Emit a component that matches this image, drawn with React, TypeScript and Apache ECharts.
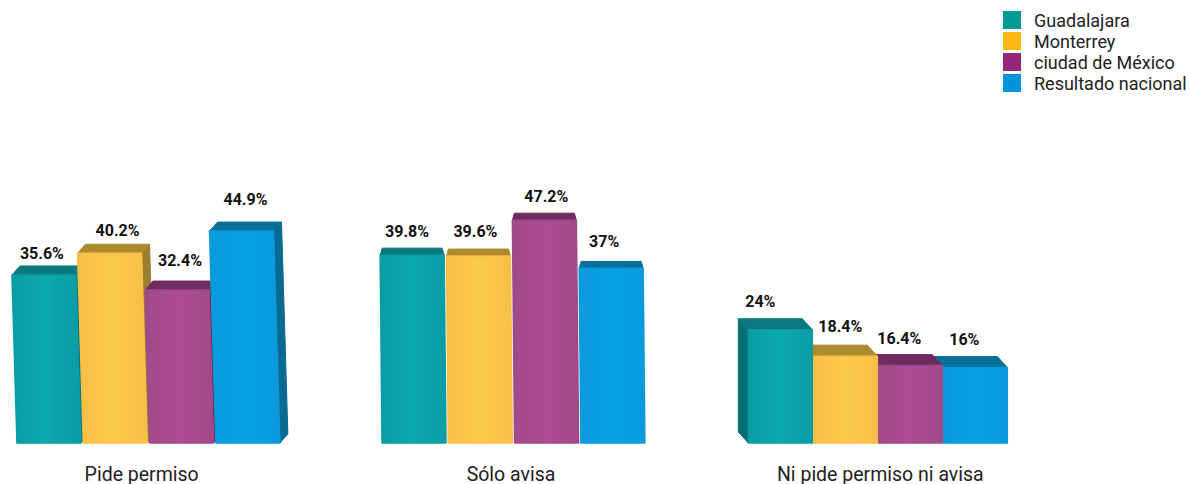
import React, { useEffect, useRef } from "react";
import * as echarts from "echarts";

const categories = ["Pide permiso", "Sólo avisa", "Ni pide permiso ni avisa"];
const seriesNames = ["Guadalajara", "Monterrey", "ciudad de México", "Resultado nacional"];
const guadalajara = [35.6, 39.8, 24];
const monterrey = [40.2, 39.6, 18.4];
const ciudadDeMexico = [32.4, 47.2, 16.4];
const resultadoNacional = [44.9, 37, 16];
const seriesValues = [guadalajara, monterrey, ciudadDeMexico, resultadoNacional];

const legendColors = ["#009b94", "#fdb913", "#93277c", "#0095db"];
const frontEdge = ["#0a9ca4", "#f6bf48", "#a04a8a", "#0a9adc"];
const frontMid = ["#0caab0", "#fcc948", "#ae4c94", "#08a2e8"];
const topColors = ["#0b7a80", "#ac8b2c", "#6e2b60", "#0a7099"];
const sideColors = ["#086d74", "#9c7f2e", "#5f2a55", "#0a6a92"];

// Layout of each group of bars (3D look), one entry per category.
const SHIFT = 100;
const firstOffset = [-124.7, -129, -132];
const pitch = [66.3, 66.3, 65];
const barWidth = 64;
const lean = [-0.03, -0.01, 0];
const depthX = [8, 0, -10];
const depthY = [-9, -7, -11];
const labelDx = [
  [-2, 8, 3, 4],
  [-5, -3, 2, -7],
  [-20, -5, -11, -11],
];
const labelDy = [
  [-21, -23, -30, -32],
  [-24, -25, -24, -27],
  [-28, -30, -27, -28],
];

const LABEL_FONT = "Roboto";

function makeRenderItem(s: number) {
  return (_params: any, api: any) => {
    const c = api.value(0);
    const v = api.value(1);
    const [cx, yTop] = api.coord([c, v]);
    const [, yBase] = api.coord([c, 0]);
    const xL = cx + firstOffset[c] + pitch[c] * s;
    const h = yBase - yTop;
    const sk = lean[c] * h;
    const dx = depthX[c];
    const dy = depthY[c];
    // Where the depth goes left, a bar's left neighbour stands in front of it.
    const z2 = dx < 0 ? 3 - s : s;
    const front = [
      [xL + sk, yTop],
      [xL + barWidth + sk, yTop],
      [xL + barWidth, yBase],
      [xL, yBase],
    ];
    const inset = dx === 0 ? 2 : 0;
    const top = [
      [xL + sk, yTop],
      [xL + sk + dx + inset, yTop + dy],
      [xL + barWidth + sk + dx - inset, yTop + dy],
      [xL + barWidth + sk, yTop],
    ];
    const grad = new echarts.graphic.LinearGradient(0, 0, 1, 0, [
      { offset: 0, color: frontEdge[s] },
      { offset: 0.5, color: frontMid[s] },
      { offset: 1, color: frontEdge[s] },
    ]);
    const children: any[] = [];
    if (dx > 0) {
      children.push({
        type: "polygon",
        z2,
        shape: {
          points: [
            [xL + barWidth + sk, yTop],
            [xL + barWidth + sk + dx, yTop + dy],
            [xL + barWidth + dx, yBase + dy],
            [xL + barWidth, yBase],
          ],
        },
        style: { fill: sideColors[s], stroke: sideColors[s], lineWidth: 1, lineJoin: "round" },
      });
    } else if (dx < 0 && s === 0) {
      children.push({
        type: "polygon",
        z2,
        shape: {
          points: [
            [xL + sk, yTop],
            [xL + sk + dx, yTop + dy],
            [xL + dx, yBase + dy],
            [xL, yBase],
          ],
        },
        style: { fill: sideColors[s], stroke: sideColors[s], lineWidth: 1, lineJoin: "round" },
      });
    }
    children.push({
      type: "polygon",
      z2,
      shape: { points: top },
      style: { fill: topColors[s], stroke: topColors[s], lineWidth: 1, lineJoin: "round" },
    });
    children.push({
      type: "polygon",
      z2,
      shape: { points: front },
      style: { fill: grad, stroke: frontEdge[s], lineWidth: 1.5, lineJoin: "round" },
    });
    children.push({
      type: "text",
      z2: 10,
      style: {
        text: `${v}%`,
        x: xL + sk + barWidth / 2 + labelDx[c][s],
        y: yTop + labelDy[c][s],
        align: "center",
        verticalAlign: "middle",
        fontFamily: LABEL_FONT,
        fontWeight: 700,
        fontSize: 16,
        fill: "#111",
      },
    });
    return { type: "group", children };
  };
}

export default function App() {
  const ref = useRef<HTMLDivElement>(null);
  useEffect(() => {
    const chart = echarts.init(ref.current!, undefined, { renderer: "svg" });
    chart.setOption({
      animation: false,
      backgroundColor: "#fff",
      grid: { left: SHIFT - 43, width: 1108, top: 207, height: 236 },
      legend: {
        left: SHIFT + 1003,
        top: 11,
        padding: 0,
        orient: "vertical",
        itemWidth: 18,
        itemHeight: 18,
        itemGap: 3,
        icon: "rect",
        data: seriesNames,
        selectedMode: false,
        textStyle: {
          fontFamily: LABEL_FONT,
          fontSize: 18,
          color: "#222",
          padding: [0, 0, 0, 8],
        },
      },
      xAxis: {
        type: "category",
        data: categories,
        axisLine: { show: false },
        axisTick: { show: false },
        axisLabel: { fontFamily: LABEL_FONT, fontSize: 19.5, color: "#222", margin: 21, interval: 0 },
      },
      yAxis: { type: "value", min: 0, max: 50, show: false },
      series: seriesNames.map((name, s) => ({
        name,
        type: "custom",
        coordinateSystem: "cartesian2d",
        renderItem: makeRenderItem(s),
        encode: { x: 0, y: 1 },
        itemStyle: { color: legendColors[s] },
        data: seriesValues[s].map((v, i) => [i, v]),
      })),
    });
    return () => chart.dispose();
  }, []);
  return <div ref={ref} style={{ position: "absolute", left: -SHIFT, top: 0, width: 1190 + SHIFT, height: 484 }} />;
}
